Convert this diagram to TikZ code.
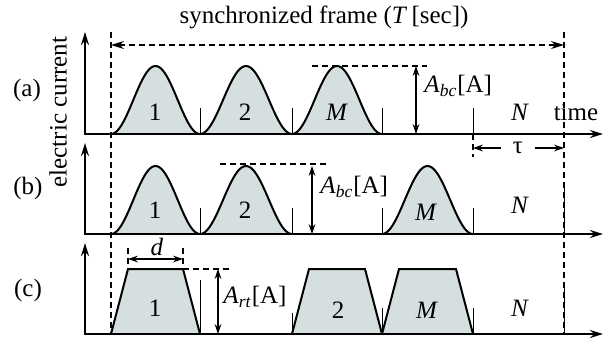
\documentclass[tikz,border=0pt]{standalone}
\usepackage{fontspec}
\setmainfont{Liberation Serif}
\usetikzlibrary{arrows.meta}
\definecolor{pulsefill}{RGB}{214,223,224}

\begin{document}
\begin{tikzpicture}[x=0.5pt, y=-0.5pt, >={Stealth[length=6.5pt,width=4pt]},
    font=\fontsize{12.5}{14}\selectfont,
    axis/.style={line width=1.1pt},
    pulse/.style={line width=1pt, fill=pulsefill},
    tick/.style={line width=0.5pt},
    guide/.style={line width=0.6pt, dash pattern=on 3pt off 2pt},
    dim/.style={line width=0.6pt, <->, >={Stealth[length=5pt,width=3.4pt]}}]

    \useasboundingbox (0,0) rectangle (611,343);

    % 1. 帧的左右边界 (虚线)
    \coordinate (FL) at (111,32);
    \coordinate (FR) at (564,32);
    \draw[guide] (FL) -- (111,334);
    \draw[guide] (FR) -- (564,334);
    \draw[guide, <->] (111,45) -- (564,45);
    \node (title) at (324,17) {synchronized frame (\textit{T}\,[sec])};

    % 2. 钟形脉冲 (a), (b)
    \foreach \xs/\xe/\base/\peak in {111/200/134/66, 200/292/134/66, 292/382/134/66,
                                     111/200/234/166, 200/292/234/166, 382/473/234/166} {
        \draw[pulse] plot[domain=0:1, samples=60, variable=\t]
            ({\xs+(\xe-\xs)*\t}, {\base-(\base-\peak)*(1-cos(360*\t))/2});
    }

    % 3. 梯形脉冲 (c)
    \foreach \xs/\xe in {111/200, 292/382, 382/473} {
        \draw[pulse] (\xs,334) -- (\xs+17,269) -- (\xe-17,269) -- (\xe,334);
    }

    % 4. 时隙刻度
    \foreach \x in {200,292,382,473} {
        \draw[tick] (\x,134) -- (\x,108);
        \draw[tick] (\x,234) -- (\x,208);
    }
    \draw[tick] (564,234) -- (564,187);
    \draw[tick] (200,334) -- (200,280);
    \draw[tick] (292,334) -- (292,313);
    \draw[tick] (382,334) -- (382,308);
    \draw[tick] (473,334) -- (473,308);
    \draw[tick] (564,334) -- (564,288);

    % 5. 坐标轴
    \foreach \base/\top in {134/32, 234/143, 334/243} {
        \draw[axis, <->] (85,\top) |- (603,\base);
    }

    % 6. 标签
    \node[rotate=90] (ylab) at (58,112) {electric current};
    \node (la) at (27,90) {(a)};
    \node (lb) at (28,188) {(b)};
    \node (lc) at (28,290) {(c)};
    \node (time) at (576,112) {time};

    \node (a1) at (155,112) {1};
    \node (a2) at (245,112) {2};
    \node (aM) at (337,112) {\textit{M}};
    \node (aN) at (520,112) {\textit{N}};
    \node (b1) at (155,210) {1};
    \node (b2) at (245,210) {2};
    \node (bM) at (426,212) {\textit{M}};
    \node (bN) at (520,205) {\textit{N}};
    \node (c1) at (155,308) {1};
    \node (c2) at (338,310) {2};
    \node (cM) at (427,310) {\textit{M}};
    \node (cN) at (520,308) {\textit{N}};

    % 7. 幅度标注 A_bc
    \draw[guide] (312,66) -- (427,66);
    \draw[dim] (416,66) -- (416,134);
    \node[anchor=west, inner sep=1pt] (Aa) at (422,86) {\textit{A}\textsubscript{\textit{bc}}[A]};
    \draw[guide] (220,164) -- (327,164);
    \draw[dim] (312,166) -- (312,234);
    \node[anchor=west, inner sep=1pt] (Ab) at (318,187) {\textit{A}\textsubscript{\textit{bc}}[A]};

    % 8. 空闲时间 tau
    \draw[guide] (473,134) -- (473,157);
    \draw[dim] (473,148) -- (564,148);
    \node[fill=white, inner sep=1pt, minimum width=34pt/2] (tau) at (518,148) {τ};

    % 9. 梯形的 d 与 A_rt
    \draw[guide] (128,248) -- (128,269);
    \draw[guide] (183,248) -- (183,269);
    \draw[guide] (183,269) -- (230,269);
    \draw[dim] (128,259) -- (183,259);
    \node[fill=white, inner sep=1pt] (d) at (157,247) {\textit{d}};
    \draw[dim] (218,269) -- (218,334);
    \node[anchor=west, inner sep=1pt] (Ac) at (221,297) {\textit{A}\textsubscript{\textit{rt}}[A]};

\end{tikzpicture}
\end{document}
